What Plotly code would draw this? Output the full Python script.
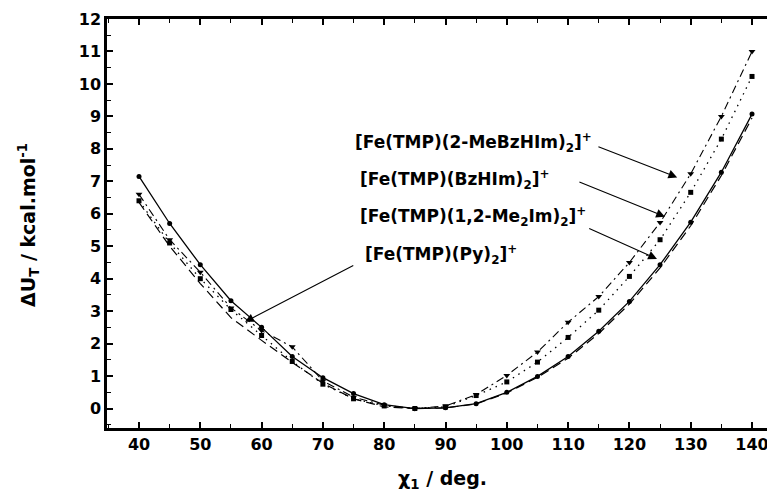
import plotly.graph_objects as go

chi1 = [40, 45, 50, 55, 60, 65, 70, 75, 80, 85, 90, 95, 100, 105, 110, 115, 120, 125, 130, 135, 140]

# [Fe(TMP)(1,2-Me2Im)2]+  (solid, circles)
u_me2im = [7.15, 5.70, 4.43, 3.32, 2.50, 1.60, 0.95, 0.46, 0.12, 0.00, 0.02, 0.15, 0.50, 0.99, 1.60, 2.38, 3.30, 4.43, 5.74, 7.28, 9.07]
# [Fe(TMP)(Py)2]+  (dashed)
u_py = [6.35, 5.00, 3.85, 2.80, 2.10, 1.42, 0.78, 0.30, 0.05, 0.00, 0.02, 0.14, 0.48, 0.96, 1.55, 2.31, 3.22, 4.33, 5.63, 7.18, 8.95]
# [Fe(TMP)(BzHIm)2]+  (dotted, squares)
u_bzhim = [6.40, 5.10, 4.00, 3.05, 2.25, 1.45, 0.75, 0.30, 0.08, 0.00, 0.05, 0.40, 0.82, 1.43, 2.19, 3.03, 4.07, 5.20, 6.66, 8.30, 10.23]
# [Fe(TMP)(2-MeBzHIm)2]+  (dash-dot, triangles)
u_mebzhim = [6.60, 5.20, 4.20, 3.10, 2.40, 1.90, 0.85, 0.35, 0.10, 0.00, 0.08, 0.43, 1.02, 1.74, 2.66, 3.45, 4.50, 5.73, 7.23, 9.00, 11.00]

x_ticks = [40, 50, 60, 70, 80, 90, 100, 110, 120, 130, 140]
y_ticks = list(range(0, 13))

labels = ["[Fe(TMP)(2-MeBzHIm)<sub>2</sub>]<sup>+</sup>",
          "[Fe(TMP)(BzHIm)<sub>2</sub>]<sup>+</sup>",
          "[Fe(TMP)(1,2-Me<sub>2</sub>Im)<sub>2</sub>]<sup>+</sup>",
          "[Fe(TMP)(Py)<sub>2</sub>]<sup>+</sup>"]
label_x = [74.9, 75.7, 75.7, 76.5]
label_y = [8.2, 7.06, 5.91, 4.74]
arrow_tail_x = [114.7, 111.6, 113.2, 75.2]
arrow_tail_y = [8.08, 7.0, 5.57, 4.43]
arrow_head_x = [127.8, 125.8, 124.5, 57.3]
arrow_head_y = [7.12, 5.91, 4.61, 2.67]

FONT = "DejaVu Sans"

fig = go.Figure()
fig.add_trace(go.Scatter(x=chi1, y=u_py, mode="lines",
                         line=dict(color="black", width=1.2, dash="9px,5px")))
fig.add_trace(go.Scatter(x=chi1, y=u_me2im, mode="lines+markers",
                         line=dict(color="black", width=1.3),
                         marker=dict(symbol="circle", size=5, color="black")))
fig.add_trace(go.Scatter(x=chi1, y=u_bzhim, mode="lines+markers",
                         line=dict(color="black", width=1.3, dash="1.5px,5px"),
                         marker=dict(symbol="square", size=5, color="black")))
fig.add_trace(go.Scatter(x=chi1, y=u_mebzhim, mode="lines+markers",
                         line=dict(color="black", width=1.1, dash="8px,4px,2px,4px"),
                         marker=dict(symbol="triangle-down", size=6, color="black")))

for i in range(4):
    fig.add_annotation(x=label_x[i], y=label_y[i], text=labels[i], showarrow=False,
                       xanchor="left", yanchor="middle",
                       font=dict(family=FONT, size=17, color="black", weight="bold"))
    fig.add_annotation(x=arrow_head_x[i], y=arrow_head_y[i], ax=arrow_tail_x[i], ay=arrow_tail_y[i],
                       axref="x", ayref="y", xref="x", yref="y", text="", showarrow=True,
                       arrowhead=2, arrowsize=1.6, arrowwidth=1.1, arrowcolor="black", standoff=0)

# axis titles
fig.add_annotation(x=0.5, y=-0.125, xref="paper", yref="paper", text="χ<sub>1</sub> / deg.",
                   showarrow=False, xanchor="center", yanchor="middle",
                   font=dict(family=FONT, size=19, color="black", weight="bold"))
fig.add_annotation(x=-0.118, y=0.496, xref="paper", yref="paper", text="ΔU<sub>T</sub> / kcal.mol<sup>-1</sup>",
                   showarrow=False, xanchor="center", yanchor="middle", textangle=-90,
                   font=dict(family=FONT, size=19, color="black", weight="bold"))

fig.update_layout(
    width=775, height=497,
    margin=dict(l=99, r=5, t=11, b=77),
    paper_bgcolor="white", plot_bgcolor="white",
    showlegend=False,
    font=dict(family=FONT, color="black"),
)
fig.update_xaxes(range=[34.78, 144.24], tickvals=x_ticks, ticks="inside", ticklen=6, tickwidth=1.5,
                 tickcolor="black", showline=True, linecolor="black", linewidth=2.5, mirror="ticks",
                 showgrid=False, zeroline=False, automargin=False,
                 minor=dict(dtick=5, tick0=0, ticks="inside", ticklen=4, tickwidth=1.2, tickcolor="black"),
                 tickfont=dict(family=FONT, size=16, weight="bold", color="black"))
fig.update_yaxes(range=[-0.6, 12.0], tickvals=y_ticks, ticks="inside", ticklen=6, tickwidth=1.5,
                 tickcolor="black", showline=True, linecolor="black", linewidth=2.5, mirror="ticks",
                 showgrid=False, zeroline=False, automargin=False,
                 minor=dict(dtick=0.5, tick0=0, ticks="inside", ticklen=4, tickwidth=1.2, tickcolor="black"),
                 tickfont=dict(family=FONT, size=16, weight="bold", color="black"))

fig.write_html("out.html")
